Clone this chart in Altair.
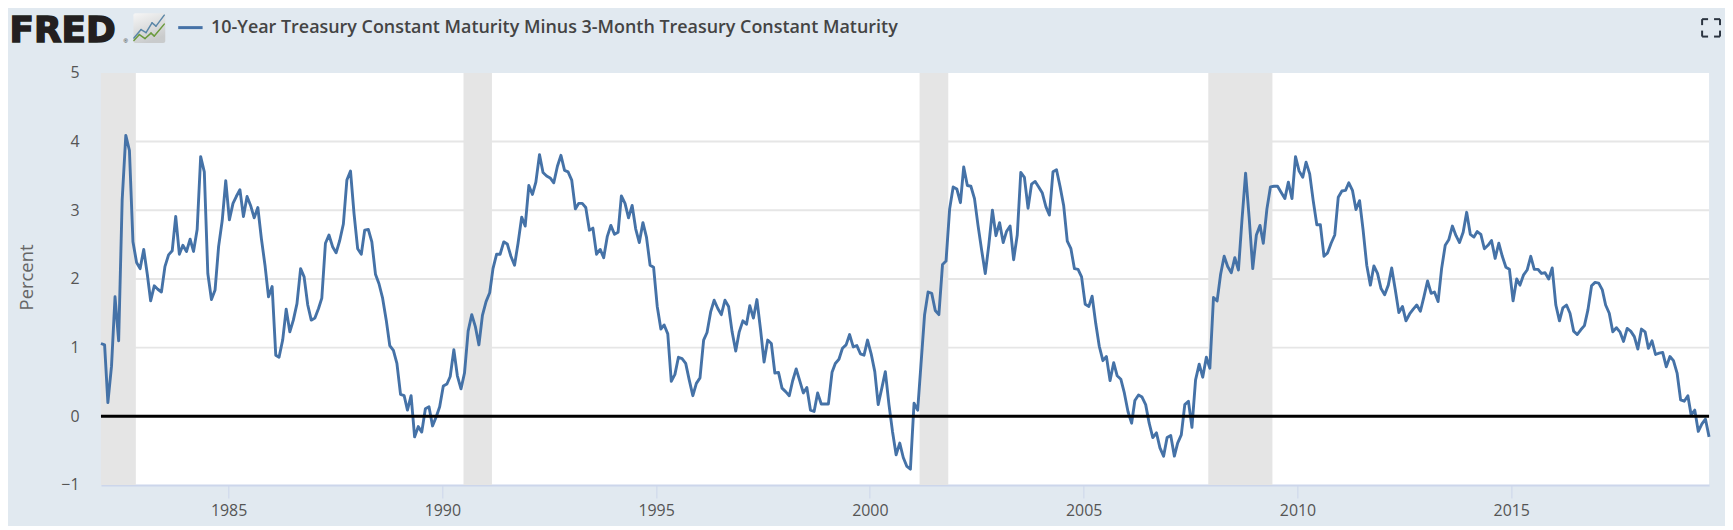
import altair as alt
import pandas as pd

TITLE = "10-Year Treasury Constant Maturity Minus 3-Month Treasury Constant Maturity"
Y_LABEL = "Percent"
LINE_COLOR = "#4572a7"
BG = "#e1e9f0"

spread_1980s = [
    1.06, 1.04, 0.20, 0.73, 1.74, 1.10, 3.15, 4.09, 3.87, 2.54, 2.24, 2.15,
    2.43, 2.06, 1.68, 1.90, 1.85, 1.81, 2.18, 2.35, 2.41, 2.91, 2.36, 2.49,
    2.40, 2.58, 2.40, 2.72, 3.78, 3.56, 2.08, 1.70, 1.84, 2.47, 2.85, 3.43,
    2.86, 3.10, 3.20, 3.30, 2.91, 3.20, 3.07, 2.89, 3.04, 2.59, 2.20, 1.74,
    1.89, 0.89, 0.86, 1.11, 1.56, 1.23, 1.40, 1.64, 2.15, 2.03, 1.62, 1.40,
    1.43, 1.57, 1.72, 2.52, 2.64, 2.47, 2.38, 2.56, 2.80, 3.44, 3.57, 2.95,
    2.44, 2.36, 2.71, 2.72, 2.54, 2.07, 1.93, 1.72, 1.40, 1.03, 0.96, 0.77,
    0.32, 0.30, 0.09, 0.30, -0.30, -0.15, -0.23, 0.11, 0.14, -0.14, -0.01, 0.14,
]
spread_1990s = [
    0.44, 0.47, 0.58, 0.97, 0.59, 0.40, 0.63, 1.24, 1.48, 1.31, 1.04, 1.47,
    1.67, 1.80, 2.15, 2.36, 2.36, 2.54, 2.51, 2.33, 2.20, 2.52, 2.90, 2.77,
    3.36, 3.23, 3.41, 3.81, 3.55, 3.50, 3.47, 3.40, 3.64, 3.80, 3.58, 3.56,
    3.44, 3.02, 3.10, 3.10, 3.04, 2.71, 2.74, 2.36, 2.43, 2.31, 2.62, 2.78,
    2.65, 2.68, 3.21, 3.10, 2.89, 3.07, 2.73, 2.53, 2.82, 2.61, 2.20, 2.17,
    1.60, 1.27, 1.33, 1.20, 0.51, 0.61, 0.86, 0.84, 0.77, 0.53, 0.30, 0.48,
    0.56, 1.11, 1.22, 1.52, 1.69, 1.57, 1.48, 1.69, 1.60, 1.23, 0.95, 1.23,
    1.39, 1.34, 1.61, 1.43, 1.70, 1.26, 0.79, 1.11, 1.06, 0.63, 0.64, 0.41,
    0.36, 0.30, 0.51, 0.69, 0.52, 0.34, 0.42, 0.09, 0.07, 0.34, 0.18, 0.18,
    0.18, 0.64, 0.77, 0.83, 0.99, 1.04, 1.19, 1.01, 1.03, 0.91, 0.89, 1.11,
]
spread_2000s = [
    0.91, 0.65, 0.17, 0.41, 0.65, 0.17, -0.22, -0.56, -0.39, -0.60, -0.73, -0.77,
    0.19, 0.09, 0.75, 1.48, 1.81, 1.79, 1.54, 1.48, 2.21, 2.26, 3.02, 3.34,
    3.31, 3.11, 3.63, 3.36, 3.35, 3.17, 2.78, 2.42, 2.08, 2.49, 3.00, 2.63,
    2.82, 2.53, 2.69, 2.77, 2.28, 2.64, 3.55, 3.48, 3.03, 3.38, 3.42, 3.34,
    3.25, 3.05, 2.93, 3.56, 3.59, 3.34, 3.07, 2.55, 2.44, 2.15, 2.14, 2.03,
    1.63, 1.60, 1.75, 1.35, 1.02, 0.81, 0.87, 0.52, 0.78, 0.59, 0.54, 0.34,
    0.07, -0.10, 0.23, 0.31, 0.28, 0.17, -0.10, -0.31, -0.24, -0.46, -0.58, -0.31,
    -0.28, -0.58, -0.39, -0.27, 0.17, 0.22, -0.16, 0.53, 0.76, 0.57, 0.86, 0.70,
    1.73, 1.68, 2.06, 2.33, 2.18, 2.09, 2.31, 2.13, 2.88, 3.54, 2.88, 2.15,
    2.64, 2.78, 2.52, 3.02, 3.34, 3.35, 3.35, 3.26, 3.17, 3.41, 3.17, 3.78,
]
spread_2010s = [
    3.57, 3.48, 3.70, 3.53, 3.14, 2.79, 2.79, 2.33, 2.38, 2.52, 2.64, 3.19,
    3.28, 3.29, 3.40, 3.29, 3.01, 3.14, 2.71, 2.20, 1.91, 2.19, 2.08, 1.86,
    1.77, 1.91, 2.16, 1.84, 1.51, 1.60, 1.39, 1.49, 1.56, 1.62, 1.53, 1.74,
    1.97, 1.79, 1.81, 1.67, 2.15, 2.49, 2.57, 2.77, 2.63, 2.53, 2.68, 2.97,
    2.65, 2.61, 2.69, 2.65, 2.44, 2.49, 2.56, 2.30, 2.52, 2.33, 2.17, 2.14,
    1.68, 2.00, 1.91, 2.06, 2.13, 2.33, 2.14, 2.14, 2.08, 2.09, 2.00, 2.16,
    1.62, 1.39, 1.58, 1.62, 1.50, 1.24, 1.19, 1.26, 1.32, 1.55, 1.90, 1.95,
    1.94, 1.84, 1.62, 1.50, 1.23, 1.29, 1.23, 1.09, 1.28, 1.24, 1.16, 0.98,
    1.27, 1.23, 0.99, 1.10, 0.90, 0.92, 0.93, 0.72, 0.87, 0.81, 0.63, 0.24,
    0.22, 0.30, 0.02, 0.09, -0.22, -0.11, -0.04, -0.30,
]
values = spread_1980s + spread_1990s + spread_2000s + spread_2010s
dates = pd.date_range("1982-01-01", periods=len(values), freq="MS").strftime("%Y-%m-%d").tolist()

rec_start = ["1982-01-01", "1990-07-01", "2001-03-01", "2007-12-01"]
rec_end = ["1982-11-01", "1991-03-01", "2001-11-01", "2009-06-01"]
grid_values = [1, 2, 3, 4]
y_ticks = [-1, 0, 1, 2, 3, 4, 5]
x_tick_years = [1985, 1990, 1995, 2000, 2005, 2010, 2015]
axis_domain = ["1982-01-07", "2019-08-18"]

PX0, PY0, W, H = 101.4, 72.0, 1615.6, 414.0

df = pd.DataFrame({"date": dates, "v": values})
one = alt.Data(values=[{"a": 1}])


def X(x):
    return alt.value(round(x - PX0, 1))


def Y(y):
    return alt.value(round(y - PY0, 1))


def seg(x1, y1, x2, y2, color, size, cap="butt"):
    return alt.Chart(one).mark_rule(color=color, size=size, strokeCap=cap).encode(
        x=X(x1), x2=X(x2), y=Y(y1), y2=Y(y2)
    )


def label(text, x, y, baseline="middle", **kw):
    return alt.Chart(alt.Data(values=[{"t": text}])).mark_text(
        align="left", baseline=baseline, **kw
    ).encode(text="t:N", x=X(x), y=Y(y))


line_x_scale = alt.Scale(domain=[dates[0], dates[-1]], nice=False)
axis_x_scale = alt.Scale(domain=axis_domain, nice=False, clamp=True)
y_scale = alt.Scale(domain=[-1, 5], nice=False)

grid = alt.Chart(pd.DataFrame({"g": grid_values})).mark_rule(color="#e6e6e6", size=2).encode(
    y=alt.Y(
        "g:Q",
        scale=y_scale,
        axis=alt.Axis(
            values=y_ticks, title=Y_LABEL, titleX=-65, titleY=205, titleFont="Open Sans",
            titleFontSize=18.5, titleFontWeight="normal", titleColor="#666666",
            labelFont="Open Sans", labelFontSize=16, labelColor="#555555",
            labelPadding=22, tickSize=0, domain=False, grid=False, labelBound=False,
            format="d",
        ),
    )
)

recess = alt.Chart(pd.DataFrame({"s": rec_start, "e": rec_end})).mark_rect(color="#e5e5e5").encode(
    x=alt.X(
        "s:T",
        scale=axis_x_scale,
        title=None,
        axis=alt.Axis(
            values=[alt.DateTime(year=yr) for yr in x_tick_years], format="%Y",
            labelFont="Open Sans", labelFontSize=16, labelColor="#555555",
            domainColor="#ccd6eb", domainWidth=2, tickColor="#ccd6eb", tickWidth=1,
            tickSize=13, labelPadding=5, grid=False, labelFlush=False,
        ),
    ),
    x2="e:T",
)

line = alt.Chart(df).mark_line(color=LINE_COLOR, strokeWidth=2.9, strokeJoin="round").encode(
    x=alt.X("date:T", scale=line_x_scale, axis=None),
    y=alt.Y("v:Q", scale=y_scale),
)

zero = alt.Chart(pd.DataFrame({"z": [0]})).mark_rule(color="#000000", size=3).encode(
    y=alt.Y("z:Q", scale=y_scale)
)

blue_pts = [(134.5, 37), (141.7, 28.5), (146.7, 31.5), (152.7, 21.7), (156.7, 25), (165, 14)]
green_pts = [(134.5, 39.5), (140, 33.5), (145.7, 37.5), (151.7, 32), (155, 35), (165, 23)]

decor = [
    label("FRED", 9.5, 41, baseline="alphabetic", font="DejaVu Sans", fontSize=36, fontWeight="bold",
          color="#231f20", stroke="#231f20", strokeWidth=1.5),
    label("®", 124, 40, font="Liberation Sans", fontSize=6, color="#231f20"),
    alt.Chart(one).mark_rect(
        cornerRadius=2,
        color=alt.Gradient(
            gradient="linear", x1=0, y1=0, x2=0.4, y2=1,
            stops=[alt.GradientStop(offset=0, color="#f6f6f6"), alt.GradientStop(offset=1, color="#c9cbcc")],
        ),
    ).encode(x=X(134), x2=X(166), y=Y(12), y2=Y(42)),
]
decor += [seg(*a, *b, "#5b87a8", 1.5, "round") for a, b in zip(blue_pts, blue_pts[1:])]
decor += [seg(*a, *b, "#6a9a3c", 1.5, "round") for a, b in zip(green_pts, green_pts[1:])]
decor += [
    seg(179, 26.5, 203.5, 26.5, LINE_COLOR, 3),
    label(TITLE, 212, 27, font="Open Sans", fontSize=18, fontWeight=600, color="#444444"),
]
ic = "#2b3440"
for cx, cy, dx, dy in [(1710, 18, 1, 1), (1728, 18, -1, 1), (1710, 35.5, 1, -1), (1728, 35.5, -1, -1)]:
    decor.append(seg(cx, cy, cx + 6 * dx, cy, ic, 2))
    decor.append(seg(cx, cy, cx, cy + 6 * dy, ic, 2))

chart = alt.layer(grid, recess, line, zero, *decor).resolve_scale(x="independent").properties(
    width=W,
    height=H,
    background=BG,
    padding={"left": PX0 - 8, "top": PY0 - 8, "right": 16, "bottom": 40},
    autosize=alt.AutoSizeParams(type="none"),
).configure_view(fill="white", strokeWidth=0)

chart.save("out.html", embed_options={"renderer": "svg", "actions": False})
